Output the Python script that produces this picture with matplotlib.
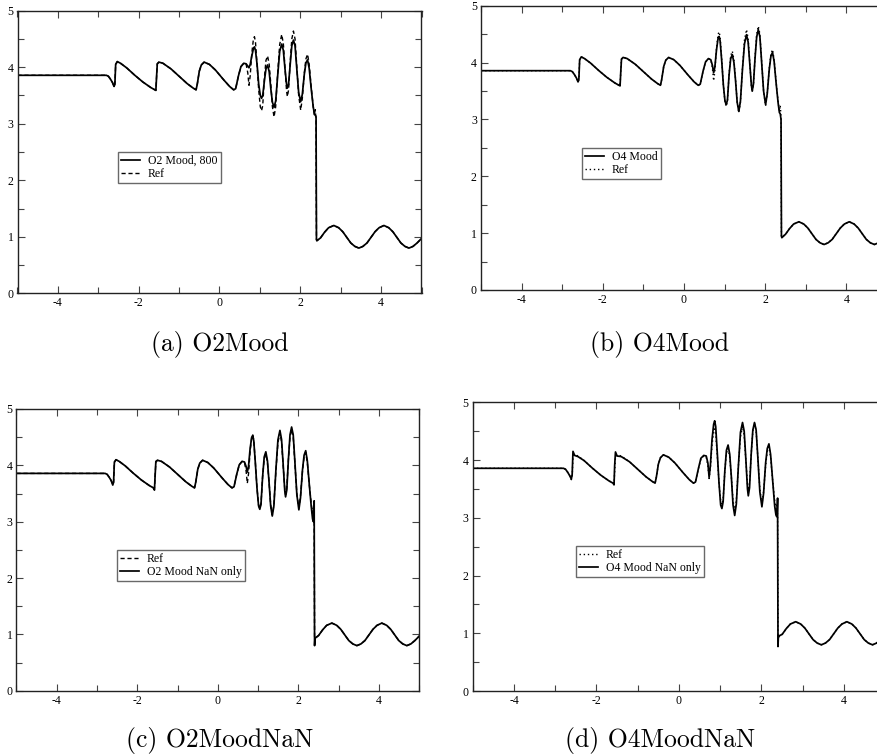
import matplotlib
matplotlib.use("Agg")
import matplotlib.pyplot as plt
from matplotlib.ticker import MultipleLocator

plt.rcParams['axes.unicode_minus'] = False
plt.rcParams['font.family'] = ['Liberation Serif', 'DejaVu Serif']

# common abscissa grid
X = [-5.0, -2.8, -2.75, -2.7, -2.65, -2.61, -2.59, -2.57, -2.53, -2.45, -2.3, -2.1, -1.9, -1.7, -1.6,
     -1.575, -1.56, -1.54, -1.5, -1.4, -1.2, -1.0, -0.8, -0.65, -0.58, -0.55, -0.5, -0.45, -0.38, -0.25,
     -0.1, 0.1, 0.25, 0.35, 0.4, 0.47, 0.53, 0.6, 0.66, 0.7, 0.73, 0.76, 0.8, 0.84, 0.865, 0.89, 0.93,
     0.97, 1.01, 1.04, 1.07, 1.11, 1.15, 1.19, 1.23, 1.27, 1.31, 1.35, 1.39, 1.44, 1.49, 1.54, 1.58, 1.62,
     1.66, 1.68, 1.71, 1.75, 1.79, 1.83, 1.87, 1.91, 1.96, 2.01, 2.05, 2.10, 2.14, 2.18, 2.22, 2.27, 2.32,
     2.35, 2.37, 2.38, 2.39, 2.395, 2.40, 2.41, 2.5, 2.6, 2.7, 2.83, 2.95, 3.05, 3.15, 3.25, 3.35, 3.45,
     3.55, 3.65, 3.75, 3.85, 3.95, 4.07, 4.19, 4.29, 4.39, 4.49, 4.59, 4.69, 4.79, 4.89, 5.0]

SAW_LEFT = [3.857, 3.857, 3.84, 3.79, 3.73, 3.66, 3.70, 4.05, 4.10, 4.07, 3.99, 3.86, 3.74, 3.64, 3.60,
            3.59, 3.80, 4.06, 4.09, 4.07, 3.97, 3.84, 3.71, 3.63, 3.60, 3.70, 3.93, 4.04, 4.09, 4.05,
            3.95, 3.78, 3.66, 3.60, 3.62, 3.85, 4.01, 4.07]
SINE_RIGHT = [0.98, 1.08, 1.16, 1.20, 1.16, 1.09, 0.99, 0.89, 0.83, 0.80,
              0.83, 0.89, 0.99, 1.09, 1.16, 1.20, 1.16, 1.09, 0.99, 0.89, 0.83, 0.80, 0.83, 0.89, 0.97]

REF_Y = SAW_LEFT + [4.05, 3.90, 3.68, 3.85, 4.25, 4.50, 4.54, 4.45, 4.05, 3.60, 3.30, 3.23, 3.32, 3.80,
                    4.12, 4.20, 4.05, 3.70, 3.30, 3.12, 3.30, 3.90, 4.40, 4.58, 4.42, 4.00, 3.58, 3.48,
                    3.60, 4.10, 4.50, 4.64, 4.50, 4.05, 3.50, 3.24, 3.45, 3.90, 4.15, 4.23, 4.05, 3.65,
                    3.30, 3.15, 3.25, 3.15, 3.05, 2.0, 0.95, 0.93] + SINE_RIGHT

O2_Y = SAW_LEFT + [4.06, 4.02, 3.99, 4.05, 4.20, 4.33, 4.36, 4.30, 4.05, 3.70, 3.50, 3.45, 3.50, 3.75,
                   3.97, 4.04, 3.92, 3.62, 3.38, 3.29, 3.40, 3.85, 4.28, 4.41, 4.30, 3.98, 3.70, 3.63,
                   3.70, 4.05, 4.38, 4.48, 4.38, 4.00, 3.55, 3.39, 3.52, 3.88, 4.08, 4.13, 3.98, 3.62,
                   3.30, 3.17, 3.15, 3.14, 3.12, 2.0, 0.95, 0.93] + SINE_RIGHT

O4_Y = SAW_LEFT + [4.05, 3.95, 3.82, 3.92, 4.22, 4.43, 4.46, 4.38, 4.02, 3.60, 3.32, 3.26, 3.34, 3.78,
                   4.07, 4.14, 4.00, 3.68, 3.30, 3.14, 3.32, 3.88, 4.33, 4.49, 4.36, 3.98, 3.60, 3.50,
                   3.62, 4.08, 4.45, 4.58, 4.45, 4.03, 3.50, 3.26, 3.45, 3.88, 4.11, 4.18, 4.02, 3.63,
                   3.28, 3.12, 3.10, 3.05, 3.00, 2.0, 0.95, 0.92] + SINE_RIGHT

O2NAN_Y = [3.857, 3.857, 3.84, 3.79, 3.73, 3.65, 3.70, 4.06, 4.10, 4.07, 3.99, 3.86, 3.74, 3.64, 3.60,
           3.56, 3.80, 4.07, 4.09, 4.07, 3.97, 3.84, 3.71, 3.63, 3.60, 3.70, 3.93, 4.04, 4.09, 4.05,
           3.95, 3.78, 3.66, 3.60, 3.62, 3.85, 4.01, 4.07] + \
          [4.06, 3.98, 3.88, 3.98, 4.30, 4.50, 4.53, 4.44, 4.04, 3.60, 3.28, 3.22, 3.31, 3.80,
           4.15, 4.24, 4.08, 3.70, 3.28, 3.10, 3.28, 3.92, 4.45, 4.62, 4.46, 4.02, 3.55, 3.44,
           3.56, 4.10, 4.54, 4.68, 4.54, 4.08, 3.48, 3.21, 3.42, 3.92, 4.18, 4.26, 4.08, 3.65,
           3.25, 3.05, 3.00, 3.05, 3.37, 2.0, 0.80, 0.93] + SINE_RIGHT

O4NAN_Y = [3.857, 3.857, 3.84, 3.79, 3.73, 3.67, 3.75, 4.15, 4.08, 4.06, 3.99, 3.86, 3.74, 3.64, 3.60,
           3.57, 3.90, 4.14, 4.07, 4.06, 3.97, 3.84, 3.71, 3.63, 3.60, 3.70, 3.93, 4.04, 4.09, 4.05,
           3.95, 3.78, 3.66, 3.60, 3.62, 3.85, 4.03, 4.08] + \
          [4.07, 3.95, 3.70, 3.90, 4.35, 4.62, 4.68, 4.58, 4.10, 3.60, 3.22, 3.16, 3.28, 3.80,
           4.17, 4.26, 4.10, 3.70, 3.22, 3.04, 3.24, 3.90, 4.48, 4.65, 4.50, 4.02, 3.50, 3.38,
           3.52, 4.10, 4.52, 4.65, 4.52, 4.06, 3.45, 3.19, 3.42, 3.95, 4.20, 4.28, 4.10, 3.65,
           3.20, 3.05, 3.02, 3.10, 3.34, 2.0, 0.77, 0.95] + SINE_RIGHT

for arr in (REF_Y, O2_Y, O4_Y, O2NAN_Y, O4NAN_Y):
    assert len(arr) == len(X), (len(arr), len(X))

X_TICKS = [-4, -2, 0, 2, 4]
Y_TICKS = [0, 1, 2, 3, 4, 5]

W, H = 878, 754
fig = plt.figure(figsize=(W / 100, H / 100), dpi=100)


def px_axes(l, r, t, b):
    return fig.add_axes([l / W, 1 - b / H, (r - l) / W, (b - t) / H])


DASHED = (0, (3, 2))
DOTTED = (0, (1, 2))

panels = [
    dict(box=(17.5, 421.5, 10.7, 293.3), sol=O2_Y, sol_label='O2 Mood, 800', ref_ls=DASHED,
         ref_first=False, leg=(118, 152), cap='(a) O2Mood', capxy=(220, 345)),
    dict(box=(481, 887, 5.7, 290), sol=O4_Y, sol_label='O4 Mood', ref_ls=DOTTED,
         ref_first=False, leg=(582, 148), cap='(b) O4Mood', capxy=(660, 345)),
    dict(box=(16.5, 419.3, 409, 690.7), sol=O2NAN_Y, sol_label='O2 Mood NaN only', ref_ls=DASHED,
         ref_first=True, leg=(117, 550), cap='(c) O2MoodNaN', capxy=(220, 740)),
    dict(box=(472.75, 885.25, 402.3, 691), sol=O4NAN_Y, sol_label='O4 Mood NaN only', ref_ls=DOTTED,
         ref_first=True, leg=(576, 546), cap='(d) O4MoodNaN', capxy=(660, 740)),
]

for p in panels:
    ax = px_axes(*p['box'])
    hs = ax.plot(X, p['sol'], color='black', lw=1.25, solid_joinstyle='round')[0]
    hr = ax.plot(X, REF_Y, color='black', lw=1.0, linestyle=p['ref_ls'])[0]
    ax.set_xlim(-5, 5)
    ax.set_ylim(0, 5)
    ax.xaxis.set_major_locator(MultipleLocator(2))
    ax.xaxis.set_minor_locator(MultipleLocator(1))
    ax.yaxis.set_major_locator(MultipleLocator(1))
    ax.yaxis.set_minor_locator(MultipleLocator(0.5))
    ax.set_xticks(X_TICKS)
    ax.set_yticks(Y_TICKS)
    ax.tick_params(which='both', direction='in', top=True, right=True, labelsize=8.5,
                   width=0.8, color='#444444')
    ax.tick_params(which='major', length=5, pad=3)
    ax.tick_params(which='minor', length=4)
    for s in ax.spines.values():
        s.set_linewidth(1.0)
        s.set_color('#222222')
    if p['ref_first']:
        handles, labels = [hr, hs], ['Ref', p['sol_label']]
    else:
        handles, labels = [hs, hr], [p['sol_label'], 'Ref']
    lx, ly = p['leg']
    leg = fig.legend(handles, labels, loc='upper left', bbox_to_anchor=(lx / W, 1 - ly / H),
                     bbox_transform=fig.transFigure, fontsize=8.5, frameon=True, fancybox=False,
                     shadow=False, borderpad=0.25, labelspacing=0.1, handlelength=1.6,
                     handletextpad=0.7, borderaxespad=0)
    leg.get_frame().set_edgecolor('#444444')
    leg.get_frame().set_linewidth(1.0)
    cx, cy = p['capxy']
    fig.text(cx / W, 1 - cy / H, p['cap'], ha='center', va='center', fontsize=18.5, family='cmr10')

fig.savefig('out.png', dpi=100)
